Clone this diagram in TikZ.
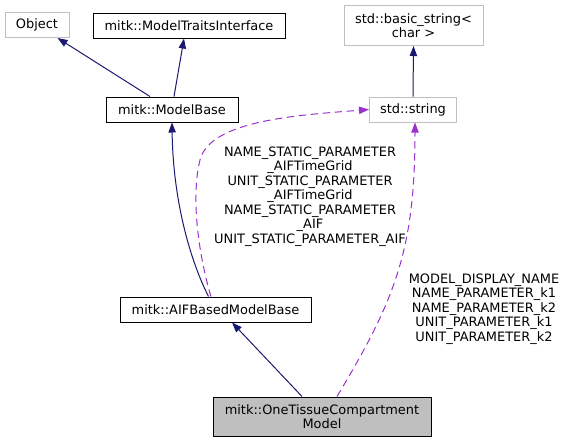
\documentclass[tikz,border=0pt]{standalone}
\usepackage{fontspec}
\setmainfont{DejaVu Sans}
\usetikzlibrary{arrows.meta}
\definecolor{edgeblue}{HTML}{191970}
\definecolor{usepurple}{HTML}{9A32CD}
\definecolor{boxgray}{HTML}{BFBFBF}

\begin{document}
\begin{tikzpicture}[x=0.75pt, y=-0.75pt, font=\fontsize{9.7}{10.9}\selectfont,
	cls/.style={draw=black, line width=0.75pt, minimum height=18.75pt, inner sep=1pt},
	ext/.style={cls, draw=boxgray},
	inh/.style={draw=edgeblue, line width=0.75pt, -{Triangle[length=7.5pt, width=5.5pt]}},
	usage/.style={draw=usepurple, line width=0.75pt, dash pattern=on 5.5pt off 3.5pt, -{Triangle[length=7.5pt, width=5.5pt]}}]
			\useasboundingbox (0, 0) rectangle (567, 443);
			\node[ext, minimum width=48pt] (Object)at(37, 25) {Object};
			\node[cls, minimum width=144pt] (MTI)at(189, 25.5) {mitk::ModelTraitsInterface};
			\node[cls, minimum width=99pt] (MB)at(172, 109.5) {mitk::ModelBase};
			\node[ext, minimum width=104.25pt, minimum height=30pt, align=center] (BS)at(413.5, 25.5) {std::basic\_string<\\char >};
			\node[ext, minimum width=65.25pt] (Str)at(413, 109.5) {std::string};
			\node[cls, minimum width=143.25pt] (AIF)at(215.5, 309.5) {mitk::AIFBasedModelBase};
			\node[cls, fill=boxgray, minimum width=163.5pt, minimum height=29.25pt, align=center] (OTC)at(322, 416.5) {mitk::OneTissueCompartment\\Model};
			\draw[inh] ([xshift=-16.5pt]MB.north) -- (Object);
			\draw[inh] ([xshift=1.5pt]MB.north) -- ([xshift=-3.75pt]MTI.south);
			\draw[inh] (Str.north) -- (BS.south);
			\draw[inh] ([xshift=-5.25pt]AIF.north) .. controls (190, 260) and (173, 200) .. (MB.south);
			\draw[inh] ([xshift=-15pt]OTC.north) -- ([xshift=12.4pt]AIF.south);
			\draw[usage] ([xshift=-3.4pt]AIF.north) .. controls (200, 260) and (190, 200) .. (200, 160) .. controls (210, 120) and (300, 115) .. (Str.west);
			\draw[usage] ([xshift=11.25pt]OTC.north) .. controls (395, 300) and (415, 250) .. ([xshift=1.5pt]Str.south);
			\node[align=center] (LA)at(310, 196.5) {NAME\_STATIC\_PARAMETER\\\_AIFTimeGrid\\UNIT\_STATIC\_PARAMETER\\\_AIFTimeGrid\\NAME\_STATIC\_PARAMETER\\\_AIF\\UNIT\_STATIC\_PARAMETER\_AIF};
			\node[align=center] (LB)at(484, 309) {MODEL\_DISPLAY\_NAME\\NAME\_PARAMETER\_k1\\NAME\_PARAMETER\_k2\\UNIT\_PARAMETER\_k1\\UNIT\_PARAMETER\_k2};
		\end{tikzpicture}
\end{document}
